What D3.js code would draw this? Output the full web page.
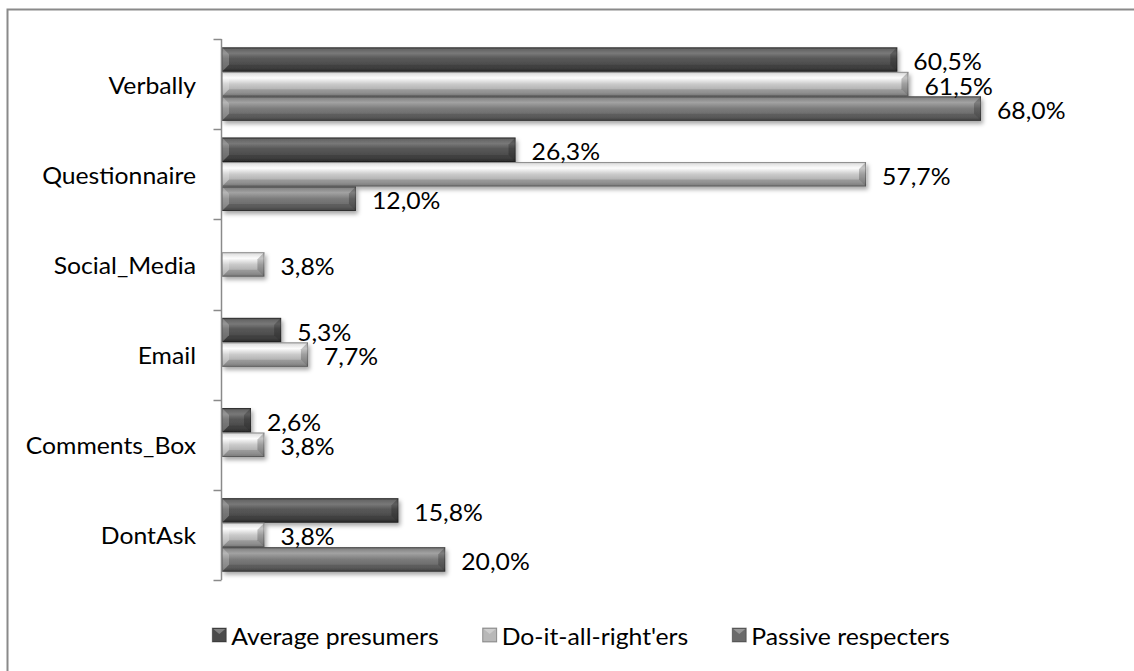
<!DOCTYPE html>
<html><head><meta charset="utf-8">
<script src="https://cdn.jsdelivr.net/npm/d3@7"></script>
<style>
html,body{margin:0;padding:0;background:#fff;}
text{font-family:Lato,"Open Sans",sans-serif;fill:#000;}
</style></head>
<body>
<svg id="c" width="1134" height="671"></svg>
<script>
const categories = ["Verbally","Questionnaire","Social_Media","Email","Comments_Box","DontAsk"];
const seriesNames = ["Average presumers","Do-it-all-right'ers","Passive respecters"];
const averagePresumers = [60.5, 26.3, null, 5.3, 2.6, 15.8];
const doItAllRighters  = [61.5, 57.7, 3.8, 7.7, 3.8, 3.8];
const passiveRespecters = [68.0, 12.0, null, null, null, 20.0];
const seriesValues = [averagePresumers, doItAllRighters, passiveRespecters];

const svg = d3.select("#c");
const defs = svg.append("defs");

const grads = [
  {id:"g0", stops:[[0,"#383838"],[0.08,"#666"],[0.25,"#787878"],[0.45,"#585858"],[0.85,"#464646"],[1,"#2c2c2c"]]},
  {id:"g1", stops:[[0,"#b5b5b5"],[0.08,"#e2e2e2"],[0.25,"#fcfcfc"],[0.5,"#cacaca"],[0.85,"#a4a4a4"],[1,"#878787"]]},
  {id:"g2", stops:[[0,"#535353"],[0.08,"#868686"],[0.25,"#a2a2a2"],[0.5,"#7b7b7b"],[0.85,"#656565"],[1,"#484848"]]}
];
grads.forEach(g=>{
  const lg = defs.append("linearGradient").attr("id",g.id).attr("x1",0).attr("y1",0).attr("x2",0).attr("y2",1);
  g.stops.forEach(s=>lg.append("stop").attr("offset",s[0]).attr("stop-color",s[1]));
});
const legendFill = ["#4a4a4a","#b8b8b8","#6a6a6a"];
const f = defs.append("filter").attr("id","sh").attr("x","-10%").attr("y","-30%").attr("width","130%").attr("height","180%");
f.append("feDropShadow").attr("dx",2).attr("dy",3).attr("stdDeviation",2).attr("flood-color","#000").attr("flood-opacity",0.35);

// chart border
svg.append("rect").attr("x",7.5).attr("y",9.5).attr("width",1200).attr("height",700)
  .attr("fill","none").attr("stroke","#8a8a8a").attr("stroke-width",2);

const x = d3.scaleLinear().domain([0,68]).range([222,981]);
const y = d3.scaleBand().domain(categories).range([39,580]).paddingInner(0).paddingOuter(0);
const ys = d3.scaleBand().domain(d3.range(3)).range([0,y.bandwidth()]).paddingInner(0).paddingOuter(0.34);

const textStretch = 1.1;
const fs = 22.5;

// bars
const bev = 7;
const barsG = svg.append("g");
seriesValues.forEach((vals,si)=>{
  vals.forEach((v,ci)=>{
    if(v==null) return;
    const x0 = x(0), x1 = x(v);
    const y0 = y(categories[ci]) + ys(si), h = ys.bandwidth(), y1 = y0+h;
    const g = barsG.append("g");
    g.append("rect").attr("x",x0).attr("y",y0).attr("width",x1-x0).attr("height",h)
      .attr("fill",`url(#g${si})`).attr("filter","url(#sh)");
    const b = Math.min(bev,(x1-x0)/2);
    g.append("polygon").attr("points",[[x0,y0],[x0+b,y0+b],[x0+b,y1-b],[x0,y1]].map(p=>p.join(",")).join(" "))
      .attr("fill","#fff").attr("opacity",0.22);
    g.append("polygon").attr("points",[[x1,y0],[x1-b,y0+b],[x1-b,y1-b],[x1,y1]].map(p=>p.join(",")).join(" "))
      .attr("fill","#000").attr("opacity",0.22);
    g.append("polygon").attr("points",[[x0,y1],[x0+b,y1-b],[x1-b,y1-b],[x1,y1]].map(p=>p.join(",")).join(" "))
      .attr("fill","#000").attr("opacity",0.12);
    g.append("rect").attr("x",x0+0.5).attr("y",y0+0.5).attr("width",x1-x0-1).attr("height",h-1)
      .attr("fill","none").attr("stroke","#000").attr("stroke-opacity",0.25).attr("stroke-width",1);
    svg.append("text").attr("transform",`translate(${x1+16},${y0+h/2+2}) scale(${textStretch},1)`)
      .attr("dominant-baseline","central").attr("font-size",fs)
      .text(v.toFixed(1).replace(".",",")+"%");
  });
});

// axis
const ax = svg.append("g").attr("transform","translate(221.5,0)");
ax.call(d3.axisLeft(y).tickSize(0).tickPadding(0));
ax.select(".domain").remove();
ax.selectAll(".tick text").remove();
ax.append("line").attr("x1",0).attr("x2",0).attr("y1",y.range()[0]).attr("y2",y.range()[1])
  .attr("stroke","#8a8a8a").attr("stroke-width",1.5);
const bounds = categories.map(c=>y(c)).concat([y.range()[1]]);
ax.selectAll("line.bt").data(bounds).enter().append("line").attr("class","bt")
  .attr("x1",-8).attr("x2",0).attr("y1",d=>Math.round(d)+0.5).attr("y2",d=>Math.round(d)+0.5)
  .attr("stroke","#8a8a8a").attr("stroke-width",1.5);
svg.append("g").selectAll("text").data(categories).enter().append("text")
  .attr("transform",c=>`translate(196,${y(c)+y.bandwidth()/2+1}) scale(${textStretch},1)`)
  .attr("text-anchor","end").attr("dominant-baseline","central").attr("font-size",fs)
  .text(c=>c);

// legend
const lg = svg.append("g");
const ly = 635, sq = 14, gapAfterSq = 5, itemGap = 44;
const items = seriesNames.map((n,i)=>{
  const g = lg.append("g");
  g.append("rect").attr("x",0).attr("y",ly-sq/2).attr("width",sq).attr("height",sq).attr("fill",legendFill[i])
    .attr("stroke","#000").attr("stroke-opacity",0.35);
  g.append("polygon").attr("points",`1,${ly-sq/2+1} ${sq-1},${ly-sq/2+1} ${sq/2},${ly-1}`).attr("fill","#fff").attr("opacity",0.3);
  const t = g.append("text").attr("transform",`translate(${sq+gapAfterSq},${ly+1}) scale(${textStretch},1)`)
    .attr("dominant-baseline","central").attr("font-size",fs).text(n);
  const w = sq+gapAfterSq + t.node().getComputedTextLength()*textStretch;
  return {g,w};
});
const total = d3.sum(items,d=>d.w) + itemGap*(items.length-1);
let cx = 581 - total/2;
items.forEach(it=>{ it.g.attr("transform",`translate(${cx},0)`); cx += it.w + itemGap; });
</script>
</body></html>
